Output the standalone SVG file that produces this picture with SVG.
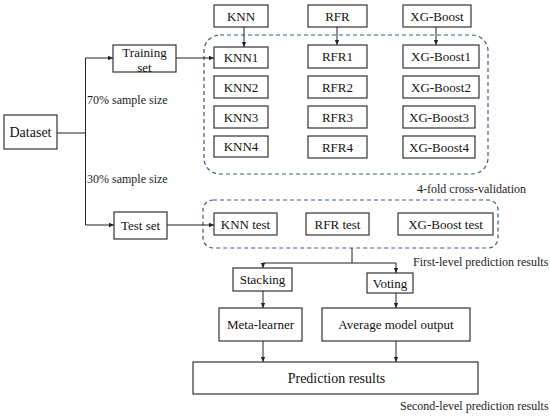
<svg xmlns="http://www.w3.org/2000/svg" width="550" height="416" viewBox="0 0 550 416">
<defs>
<marker id="ah" markerWidth="6" markerHeight="6" refX="5" refY="3" orient="auto" markerUnits="userSpaceOnUse">
<path d="M0,0.8 L5,3 L0,5.2 Z" fill="#222"/>
</marker>
<style>
text{font-family:'Liberation Serif','Times New Roman',Tinos,'DejaVu Serif',serif}
.box{fill:#fff;stroke:#333;stroke-width:1.2}
.t{font-size:13px;fill:#111;text-anchor:middle;dominant-baseline:central}
.big{font-size:14px}
.lab{font-size:12px;fill:#222}
.dash{fill:none;stroke:#3d5a78;stroke-width:1.2;stroke-dasharray:4 3}
.ln{fill:none;stroke:#222;stroke-width:1}
</style>
</defs>
<rect width="550" height="416" fill="#fff"/>

<g id="groups">
<rect class="dash" x="204" y="35" width="284" height="139" rx="16"/>
<rect class="dash" x="203" y="200" width="295" height="48" rx="10"/>
</g>

<g id="connectors">
<path class="ln" d="M57,133 H85.5"/>
<path class="ln" d="M85.5,58 V225"/>
<path class="ln" d="M85.5,58 H113" marker-end="url(#ah)"/>
<path class="ln" d="M85.5,225 H114" marker-end="url(#ah)"/>
<path class="ln" d="M176,58 H214" marker-end="url(#ah)"/>
<path class="ln" d="M167,225 H214" marker-end="url(#ah)"/>
<path class="ln" d="M244,27 V47" marker-end="url(#ah)"/>
<path class="ln" d="M337,27 V45" marker-end="url(#ah)"/>
<path class="ln" d="M436,27 V45" marker-end="url(#ah)"/>
<path class="ln" d="M352,248 V263"/>
<path class="ln" d="M263,263 H396"/>
<path class="ln" d="M263,263 V268" marker-end="url(#ah)"/>
<path class="ln" d="M396,263 V273" marker-end="url(#ah)"/>
<path class="ln" d="M263,291 V308" marker-end="url(#ah)"/>
<path class="ln" d="M396,293 V308" marker-end="url(#ah)"/>
<path class="ln" d="M263,341 V362" marker-end="url(#ah)"/>
<path class="ln" d="M396,341 V362" marker-end="url(#ah)"/>
</g>

<g id="dataset"><rect class="box" x="4" y="115" width="53" height="34"/><text class="t big" x="30.5" y="132">Dataset</text></g>
<g id="training"><rect class="box" x="113" y="45" width="63" height="27"/><text class="t" x="144.5" y="52">Training</text><text class="t" x="144.5" y="67">set</text></g>
<g id="testset"><rect class="box" x="114" y="212" width="53" height="27"/><text class="t" x="140.5" y="225.5">Test set</text></g>

<g id="knn"><rect class="box" x="214" y="5" width="54" height="22"/><text class="t" x="241" y="16">KNN</text></g>
<g id="rfr"><rect class="box" x="308" y="5" width="59" height="22"/><text class="t" x="337.5" y="16">RFR</text></g>
<g id="xgb"><rect class="box" x="403" y="5" width="68" height="22"/><text class="t" x="437" y="16">XG-Boost</text></g>

<g id="knn1"><rect class="box" x="214" y="47" width="54" height="21"/><text class="t" x="241" y="57.5">KNN1</text></g>
<g id="knn2"><rect class="box" x="214" y="76" width="54" height="22"/><text class="t" x="241" y="87">KNN2</text></g>
<g id="knn3"><rect class="box" x="214" y="106" width="54" height="22"/><text class="t" x="241" y="117">KNN3</text></g>
<g id="knn4"><rect class="box" x="214" y="136" width="54" height="21"/><text class="t" x="241" y="146.5">KNN4</text></g>

<g id="rfr1"><rect class="box" x="308" y="45" width="59" height="23"/><text class="t" x="337.5" y="56.5">RFR1</text></g>
<g id="rfr2"><rect class="box" x="308" y="76" width="59" height="22"/><text class="t" x="337.5" y="87">RFR2</text></g>
<g id="rfr3"><rect class="box" x="308" y="106" width="59" height="22"/><text class="t" x="337.5" y="117">RFR3</text></g>
<g id="rfr4"><rect class="box" x="308" y="136" width="59" height="22"/><text class="t" x="337.5" y="147">RFR4</text></g>

<g id="xgb1"><rect class="box" x="403" y="45" width="76" height="23"/><text class="t" x="441" y="56.5">XG-Boost1</text></g>
<g id="xgb2"><rect class="box" x="403" y="76" width="76" height="22"/><text class="t" x="441" y="87">XG-Boost2</text></g>
<g id="xgb3"><rect class="box" x="403" y="106" width="72" height="22"/><text class="t" x="439" y="117">XG-Boost3</text></g>
<g id="xgb4"><rect class="box" x="403" y="136" width="72" height="22"/><text class="t" x="439" y="147">XG-Boost4</text></g>

<g id="knntest"><rect class="box" x="214" y="213" width="63" height="22"/><text class="t" x="245.5" y="224">KNN test</text></g>
<g id="rfrtest"><rect class="box" x="306" y="213" width="63" height="22"/><text class="t" x="337.5" y="224">RFR test</text></g>
<g id="xgbtest"><rect class="box" x="398" y="213" width="95" height="22"/><text class="t" x="445.5" y="224">XG-Boost test</text></g>

<g id="stacking"><rect class="box" x="233" y="268" width="59" height="23"/><text class="t" x="262.5" y="279.5">Stacking</text></g>
<g id="voting"><rect class="box" x="367" y="273" width="46" height="20"/><text class="t" x="390" y="283">Voting</text></g>
<g id="meta"><rect class="box" x="219" y="308" width="83" height="33"/><text class="t" x="260.5" y="324.5">Meta-learner</text></g>
<g id="avg"><rect class="box" x="322" y="308" width="148" height="33"/><text class="t" x="396" y="324.5">Average model output</text></g>
<g id="pred"><rect class="box" x="193" y="362" width="285" height="32"/><text class="t big" x="336.5" y="378">Prediction results</text></g>

<g id="labels">
<text class="lab" x="87" y="104">70% sample size</text>
<text class="lab" x="87" y="183">30% sample size</text>
<text class="lab" x="417" y="193">4-fold cross-validation</text>
<text class="lab" x="413" y="266">First-level prediction results</text>
<text class="lab" x="400" y="410">Second-level prediction results</text>
</g>
</svg>
